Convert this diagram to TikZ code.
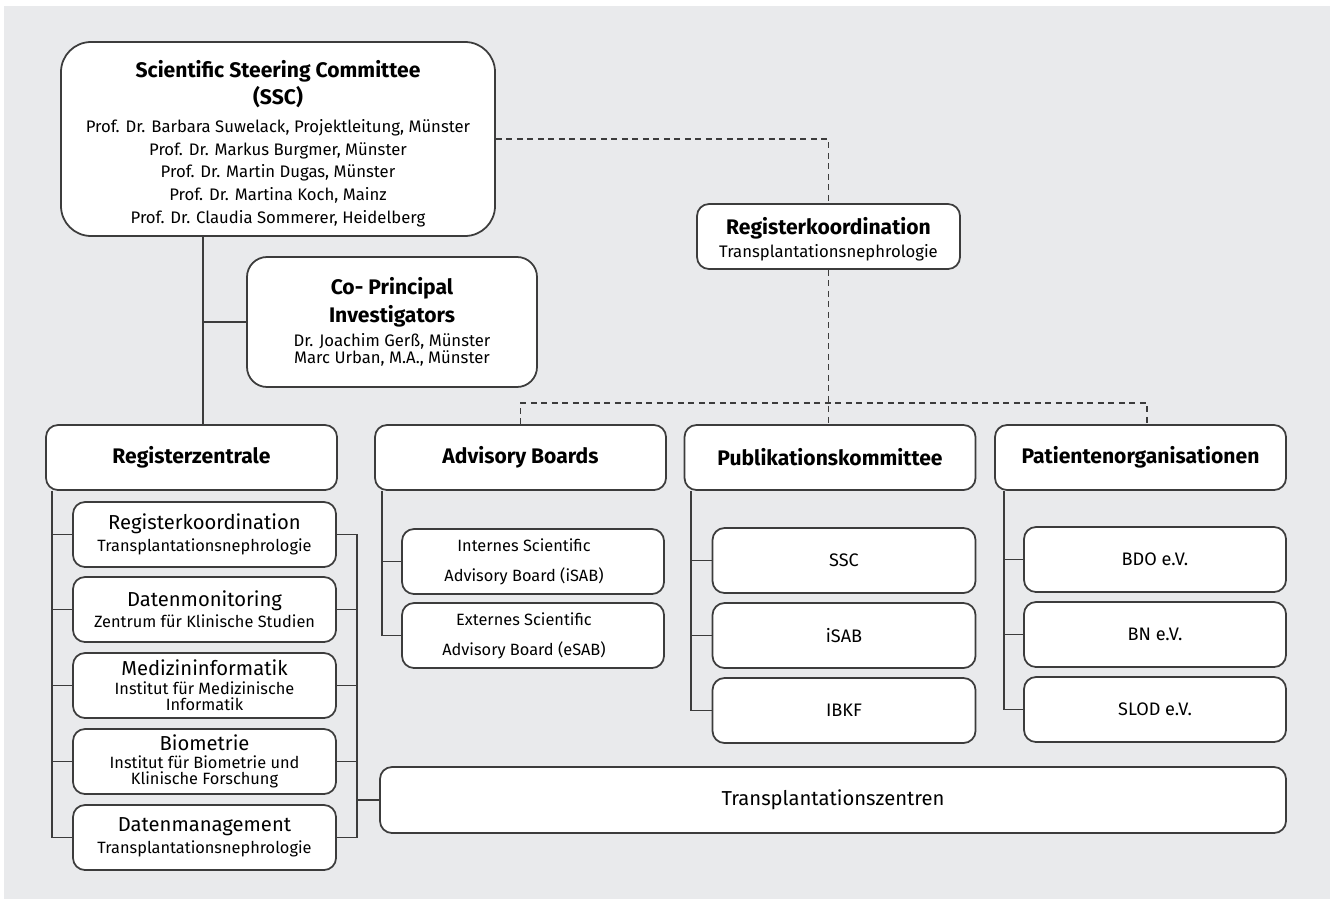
\documentclass[tikz,border=0pt]{standalone}
\usepackage{fontspec}
\setmainfont{Fira Sans}
\usetikzlibrary{positioning}

\definecolor{panelgray}{HTML}{E9EAEC}
\definecolor{linegray}{HTML}{3C3C3C}

\newcommand{\headfont}{\fontsize{12}{15}\selectfont\bfseries}
\newcommand{\unitfont}{\fontsize{11.5}{13}\selectfont}
\newcommand{\namefont}{\fontsize{9.5}{13}\selectfont}
\newcommand{\smallfont}{\fontsize{9.3}{10}\selectfont}

\tikzset{
  box/.style={draw=linegray, line width=1pt, fill=white, rounded corners=2.4mm,
    align=center, inner sep=0pt, minimum height=13mm},
  headbox/.style={box, minimum width=58.2mm, font=\headfont},
  unitbox/.style={box, minimum width=52.6mm, font=\smallfont},
  boardbox/.style={box, minimum width=52.4mm, font=\fontsize{9.3}{13}\selectfont},
  memberbox/.style={box, minimum width=52.6mm, font=\fontsize{10.3}{12}\selectfont},
  link/.style={draw=linegray, line width=0.9pt},
  dashlink/.style={link, dash pattern=on 1.2mm off 0.9mm}
}

\begin{document}
\begin{tikzpicture}[x=0.2mm, y=-0.2mm]

\useasboundingbox (0,0) rectangle (1330,899);
\fill [panelgray] (4,6) rectangle (1330,899);

\node [box, rounded corners=6mm, minimum width=86.8mm, minimum height=38.8mm, font=\namefont] (SSC) at (278,139)
  {{\headfont\rule{0pt}{15pt}Scientific Steering Committee}\\[2.3pt]
   {\headfont (SSC)}\\[3pt]
   Prof. Dr. Barbara Suwelack, Projektleitung, Münster\\
   Prof. Dr. Markus Burgmer, Münster\\
   Prof. Dr. Martin Dugas, Münster\\
   Prof. Dr. Martina Koch, Mainz\\
   Prof. Dr. Claudia Sommerer, Heidelberg};
\node [box, minimum width=52.6mm, font=\namefont] (RKtop) at (828.5,236.5)
  {{\fontsize{12}{13}\selectfont\bfseries\rule{0pt}{12.5pt}Registerkoordination}\\
   Transplantationsnephrologie};
\node [box, rounded corners=4mm, minimum width=58mm, minimum height=26mm, font=\fontsize{9.5}{10}\selectfont] (CoPI) at (392,322)
  {{\headfont Co- Principal}\\[2.5pt]
   {\headfont Investigators}\\[2.4pt]
   Dr. Joachim Gerß, Münster\\
   Marc Urban, M.A., Münster};

\node [headbox] (RZ) at (191.5,457.5) {Registerzentrale};
\node [headbox] (AB) at (520.5,457.5) {Advisory Boards};
\node [headbox] (PK) at (830,457.5) {Publikationskommittee};
\node [headbox] (PO) at (1140.5,457.5) {Patientenorganisationen};

\node [unitbox] (RK) at (204.5,534.5)
  {{\unitfont Registerkoordination}\\[2.7pt] Transplantationsnephrologie};
\node [unitbox] (DMon) at (204.5,609.5)
  {{\unitfont Datenmonitoring}\\[2pt] Zentrum für Klinische Studien};
\node [unitbox] (MI) at (204.5,685.5)
  {{\unitfont Medizininformatik}\\[1pt] Institut für Medizinische\\[-0.9pt] Informatik};
\node [unitbox] (BIO) at (204.5,761.5)
  {{\unitfont Biometrie}\\[0.5pt] Institut für Biometrie und\\[-0.9pt] Klinische Forschung};
\node [unitbox] (DMan) at (204.5,837.5)
  {{\unitfont Datenmanagement}\\[2.7pt] Transplantationsnephrologie};

\node [boardbox] (iSABbox) at (533,561.5)
  {Internes Scientific\hspace*{3.6mm}\\[4pt] Advisory Board (iSAB)\hspace*{3.6mm}};
\node [boardbox] (eSABbox) at (533,635.5)
  {Externes Scientific\hspace*{3.6mm}\\[4pt] Advisory Board (eSAB)\hspace*{3.6mm}};

\node [memberbox] (PKssc) at (844,560.5) {SSC};
\node [memberbox] (PKisab) at (844,635.5) {iSAB};
\node [memberbox] (PKibkf) at (844,710.5) {IBKF};

\node [memberbox, minimum width=52.4mm] (BDO) at (1155,559.5) {BDO e.V.};
\node [memberbox, minimum width=52.4mm] (BN) at (1155,634.5) {BN e.V.};
\node [memberbox, minimum width=52.4mm] (SLOD) at (1155,709.5) {SLOD e.V.};

\node [box, minimum width=181.2mm, minimum height=13.2mm, font=\fontsize{11.5}{13}\selectfont] (TZ) at (833,800)
  {Transplantationszentren};

% rails
\coordinate (spine) at (203,0);
\coordinate (rzrail) at (52,0);
\coordinate (bracket) at (357,0);
\coordinate (abrail) at (382,0);
\coordinate (pkrail) at (691,0);
\coordinate (porail) at (1004,0);
\coordinate (bus) at (0,403);

\draw [link] (SSC.south -| spine) -- (RZ.north -| spine);
\draw [link] (CoPI.west) -- (CoPI.west -| spine);

\draw [dashlink] (SSC.east) -| (RKtop.north);
\draw [dashlink] (RKtop.south) -- (RKtop.south |- PK.north);
\draw [dashlink] (AB.north) -- (AB.north |- bus) -- ([xshift=1.3mm]PO.north |- bus) -- ([xshift=1.3mm]PO.north);

\draw [link] (RZ.south -| rzrail) |- (DMan.west);
\draw [link] (RK.west) -- (RK.west -| rzrail);
\draw [link] (DMon.west) -- (DMon.west -| rzrail);
\draw [link] (MI.west) -- (MI.west -| rzrail);
\draw [link] (BIO.west) -- (BIO.west -| rzrail);

\draw [link] (RK.east) -| (DMan.east -| bracket) -- (DMan.east);
\draw [link] (DMon.east) -- (DMon.east -| bracket);
\draw [link] (MI.east) -- (MI.east -| bracket);
\draw [link] (BIO.east) -- (BIO.east -| bracket);
\draw [link] (TZ.west) -- (TZ.west -| bracket);

\draw [link] (AB.south -| abrail) |- (eSABbox.west);
\draw [link] (iSABbox.west) -- (iSABbox.west -| abrail);

\draw [link] (PK.south -| pkrail) |- (PKibkf.west);
\draw [link] (PKssc.west) -- (PKssc.west -| pkrail);
\draw [link] (PKisab.west) -- (PKisab.west -| pkrail);

\draw [link] (PO.south -| porail) |- (SLOD.west);
\draw [link] (BDO.west) -- (BDO.west -| porail);
\draw [link] (BN.west) -- (BN.west -| porail);

\end{tikzpicture}
\end{document}
